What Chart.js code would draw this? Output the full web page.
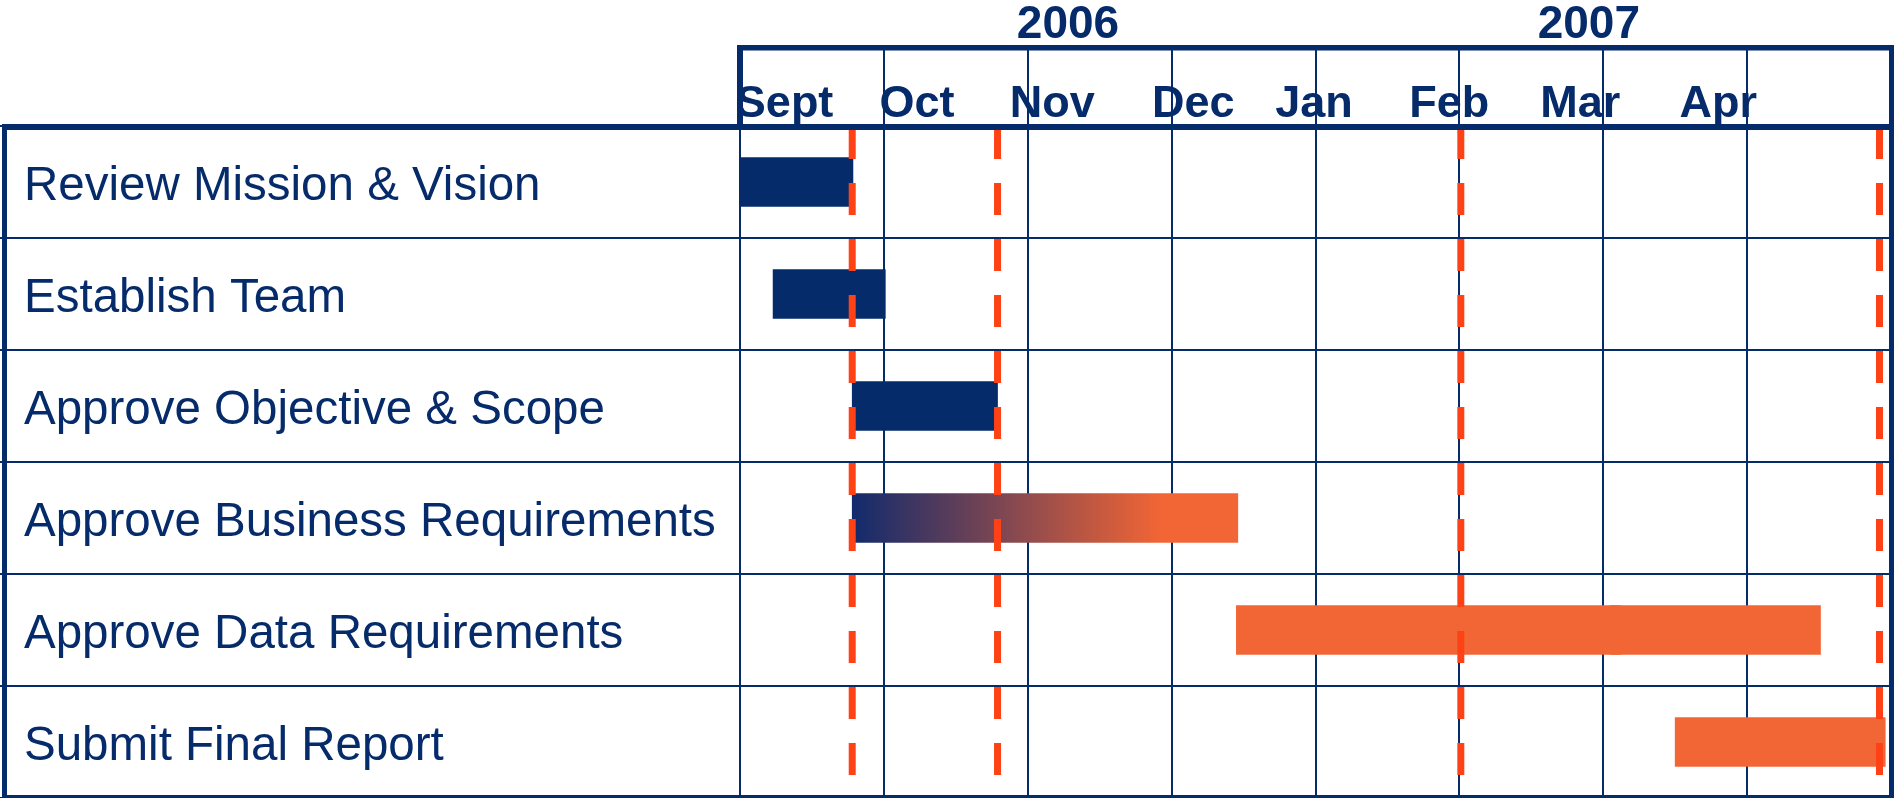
<!DOCTYPE html>
<html>
<head>
    <title>Project Timeline</title>
    <script src="https://cdn.jsdelivr.net/npm/chart.js@4.4.1/dist/chart.umd.min.js"></script>
    <style>
        html, body {
            margin: 0;
            padding: 0;
            background: #ffffff;
            overflow: hidden;
        }
        #timeline {
            display: block;
        }
    </style>
</head>
<body>
    <canvas id="timeline" width="1896" height="798"></canvas>

    <script>
        // Data: x values are months counted from 1 Sept 2006
        const tasks = [
            'Review Mission & Vision',
            'Establish Team',
            'Approve Objective & Scope',
            'Approve Business Requirements',
            'Approve Data Requirements',
            'Submit Final Report'
        ];
        const months = ['Sept', 'Oct', 'Nov', 'Dec', 'Jan', 'Feb', 'Mar', 'Apr'];
        const monthLabelAt = [0.31, 1.23, 2.17, 3.15, 3.99, 4.93, 5.84, 6.80];
        const years = ['2006', '2007'];
        const yearLabelAt = [2.28, 5.90];

        const navyBars = [[0, 0.785], [0.23, 1.01], [0.78, 1.79], null, null, null];
        const blendBars = [null, null, null, [0.78, 3.46], null, null];
        const orangeBars = [null, null, null, null, [3.45, 6.12], [6.5, 7.96]];
        const orangeBars2 = [null, null, null, null, [6.05, 7.51], null];
        const milestones = [0.78, 1.79, 5.01, 7.92];

        const NAVY = '#062b6b';
        const ORANGE = '#f26535';
        const RED = '#ff4216';
        const FONT = '"Liberation Sans", Arial, sans-serif';

        function blendColor(c) {
            const chart = c.chart;
            const v = blendBars[c.dataIndex];
            const xs = chart.scales.x;
            if (!v || !xs) return ORANGE;
            const g = chart.ctx.createLinearGradient(xs.getPixelForValue(v[0]), 0, xs.getPixelForValue(v[1]), 0);
            g.addColorStop(0, '#122a6c');
            g.addColorStop(0.8, ORANGE);
            g.addColorStop(1, ORANGE);
            return g;
        }

        // dashed milestone lines, on top of the bars
        const milestonePlugin = {
            id: 'milestones',
            afterDatasetsDraw(chart) {
                const ctx = chart.ctx;
                const area = chart.chartArea;
                const xs = chart.scales.x;
                ctx.save();
                ctx.strokeStyle = RED;
                ctx.lineWidth = 7;
                ctx.setLineDash([32, 24]);
                milestones.forEach(m => {
                    const px = xs.getPixelForValue(m);
                    ctx.beginPath();
                    ctx.moveTo(px, area.top + 1);
                    ctx.lineTo(px, area.bottom);
                    ctx.stroke();
                });
                ctx.restore();
            }
        };

        // table frame and header month dividers
        const framePlugin = {
            id: 'frame',
            afterDraw(chart) {
                const ctx = chart.ctx;
                const area = chart.chartArea;
                const xs = chart.scales.x;
                const head = chart.scales.xm;
                ctx.save();
                ctx.fillStyle = NAVY;
                ctx.strokeStyle = NAVY;
                ctx.lineWidth = 2;
                xs.ticks.forEach(t => {
                    const px = Math.round(xs.getPixelForValue(t.value));
                    ctx.beginPath();
                    ctx.moveTo(px, head.top);
                    ctx.lineTo(px, area.top);
                    ctx.stroke();
                });
                const top = head.top - 2;
                ctx.fillRect(area.left - 3, top, area.right + 3 - (area.left - 3), 5.5);
                ctx.fillRect(area.left - 3, top, 6, area.top - top + 3);
                ctx.fillRect(2, area.top - 2, area.right + 1, 6);
                ctx.fillRect(2, area.top - 2, 5, area.bottom - area.top + 2);
                ctx.fillRect(2, area.bottom - 3, area.right + 1, 3);
                ctx.fillRect(area.right - 2, top, 5, area.bottom - top);
                ctx.restore();
            }
        };

        new Chart(document.getElementById('timeline'), {
            type: 'bar',
            data: {
                labels: tasks,
                datasets: [
                    { data: navyBars, backgroundColor: NAVY },
                    { data: blendBars, backgroundColor: blendColor },
                    { data: orangeBars, backgroundColor: ORANGE },
                    { data: orangeBars2, backgroundColor: ORANGE }
                ]
            },
            options: {
                indexAxis: 'y',
                responsive: false,
                animation: false,
                grouped: false,
                barThickness: 49,
                borderWidth: 0,
                layout: { padding: { left: 24, right: 5, top: 0, bottom: 0 } },
                plugins: {
                    legend: { display: false },
                    tooltip: { enabled: false }
                },
                scales: {
                    x: {
                        type: 'linear',
                        position: 'top',
                        min: 0,
                        max: 8,
                        weight: 0,
                        ticks: { display: false, stepSize: 1 },
                        grid: { color: NAVY, lineWidth: 2, drawTicks: false },
                        border: { display: false },
                        afterFit: s => { s.height = 0; }
                    },
                    xm: {
                        type: 'linear',
                        position: 'top',
                        min: 0,
                        max: 8,
                        weight: 1,
                        afterBuildTicks: s => { s.ticks = monthLabelAt.map(v => ({ value: v })); },
                        ticks: {
                            autoSkip: false,
                            maxRotation: 0,
                            padding: -1,
                            color: NAVY,
                            font: { family: FONT, size: 45, weight: 'bold', lineHeight: 1 },
                            callback: (v, i) => months[i]
                        },
                        grid: { display: false, drawTicks: false },
                        border: { display: false },
                        afterFit: s => { s.height = 79; s.paddingLeft = 0; s.paddingRight = 0; }
                    },
                    xy: {
                        type: 'linear',
                        position: 'top',
                        min: 0,
                        max: 8,
                        weight: 2,
                        afterBuildTicks: s => { s.ticks = yearLabelAt.map(v => ({ value: v })); },
                        ticks: {
                            autoSkip: false,
                            maxRotation: 0,
                            padding: -1,
                            color: NAVY,
                            font: { family: FONT, size: 46, weight: 'bold', lineHeight: 1 },
                            callback: (v, i) => years[i]
                        },
                        grid: { display: false, drawTicks: false },
                        border: { display: false },
                        afterFit: s => { s.height = 47; s.paddingLeft = 0; s.paddingRight = 0; }
                    },
                    y: {
                        type: 'category',
                        position: 'left',
                        ticks: {
                            crossAlign: 'far',
                            autoSkip: false,
                            padding: 0,
                            labelOffset: 5,
                            color: NAVY,
                            font: { family: FONT, size: 47.5 }
                        },
                        grid: { color: NAVY, lineWidth: 2, drawTicks: true, tickLength: 740 },
                        border: { display: false },
                        afterFit: s => { s.width = 716; s.paddingTop = 0; s.paddingBottom = 0; }
                    }
                }
            },
            plugins: [milestonePlugin, framePlugin]
        });
    </script>
</body>
</html>
